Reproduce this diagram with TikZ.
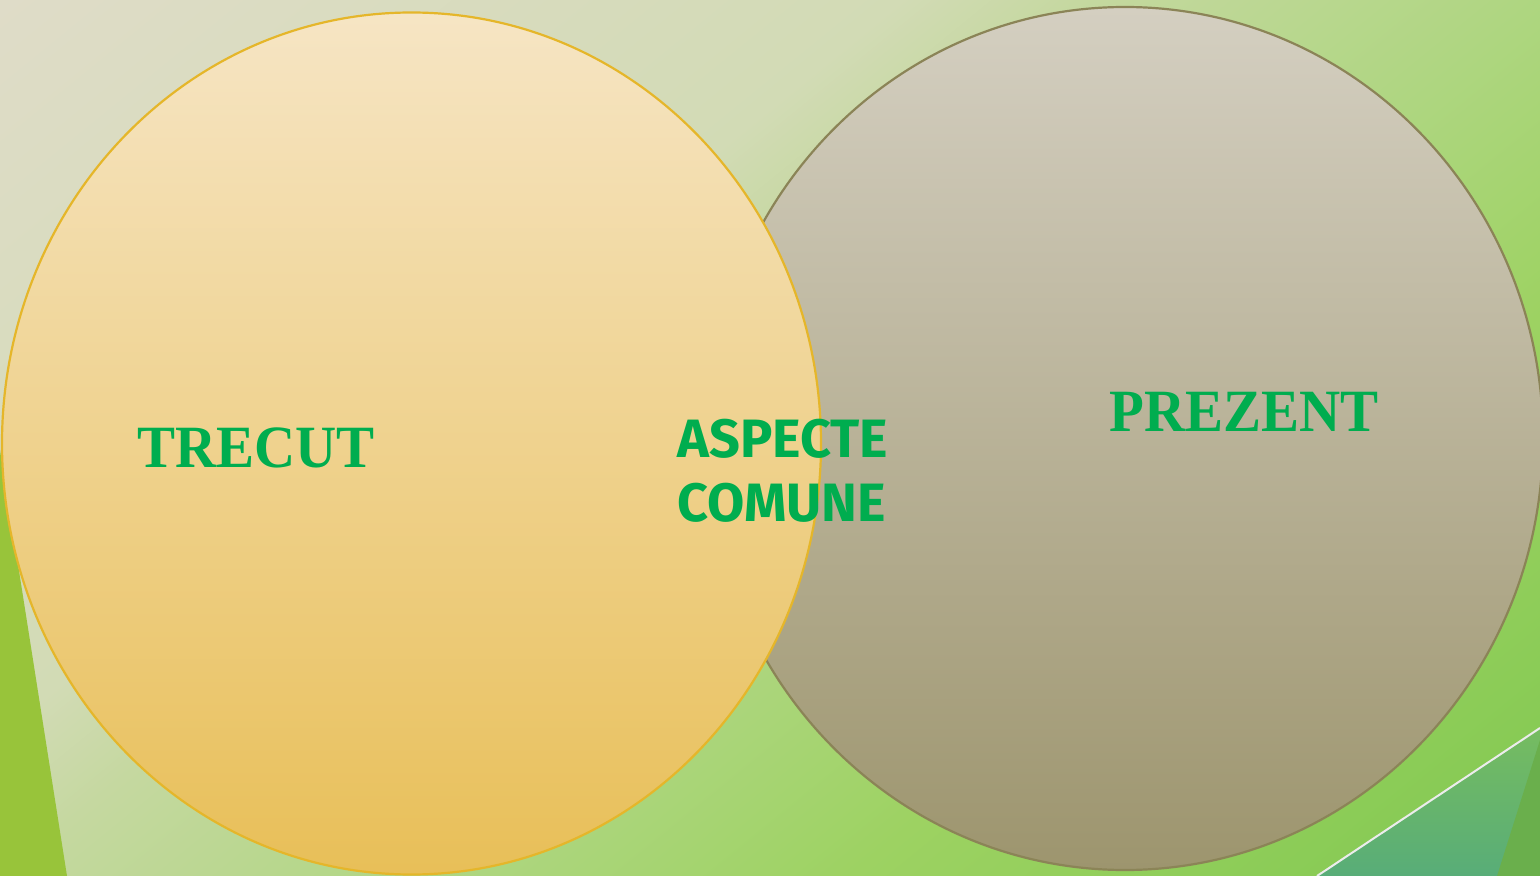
\documentclass[tikz,border=0pt]{standalone}
\usepackage{fontspec}
\usepackage{tikz}
\usetikzlibrary{positioning, shadings}
\newfontfamily\titlefont{Liberation Serif}[FakeStretch=0.95]
\newfontfamily\commonfont{Fira Sans}
\definecolor{bg0}{HTML}{DFDCC8}
\definecolor{bg1}{HTML}{D2DBB5}
\definecolor{bg2}{HTML}{C5D8A0}
\definecolor{bg3}{HTML}{AED680}
\definecolor{bg4}{HTML}{9DD262}
\definecolor{bg5}{HTML}{80C850}
\pgfdeclarehorizontalshading{bgshade}{100bp}{color(0bp)=(bg0); color(25bp)=(bg0);
  color(42.2bp)=(bg1); color(45.6bp)=(bg2); color(54.4bp)=(bg3); color(61.8bp)=(bg4);
  color(75bp)=(bg5); color(100bp)=(bg5)}
\definecolor{leafgreen}{HTML}{98C43A}
\definecolor{tealTop}{HTML}{76BC60}
\definecolor{tealBot}{HTML}{58AD78}
\definecolor{darkleaf}{HTML}{6AAF4C}
\definecolor{pastTop}{HTML}{F6E5C4}
\definecolor{pastBot}{HTML}{E8BF58}
\definecolor{pastEdge}{HTML}{E5B62A}
\definecolor{presTop}{HTML}{D4CFC1}
\definecolor{presBot}{HTML}{9D956E}
\definecolor{presEdge}{HTML}{8B8457}
\definecolor{textgreen}{HTML}{00AD4F}

\begin{document}
\begin{tikzpicture}[x=0.5pt, y=-0.5pt,
  title/.style={text=textgreen, font=\titlefont\bfseries\fontsize{30}{30}\selectfont, inner sep=0pt, anchor=base},
  common/.style={text=textgreen, font=\commonfont\bfseries\fontsize{27}{27}\selectfont, inner sep=0pt, anchor=base west}]
  \useasboundingbox (0,0) rectangle (1540,876);
  \clip (0,0) rectangle (1540,876);
  % background
  \begin{scope}[transform canvas={rotate=-50.9}]
    \shade[shading=bgshade] (0,-1300) rectangle (1652,1300);
  \end{scope}
  \fill[leafgreen] (0,450) -- (67,876) -- (0,876) -- cycle;
  \shade[top color=tealTop, bottom color=tealBot] (1317,876) -- (1540,728) -- (1540,876) -- cycle;
  \fill[darkleaf] (1497,876) -- (1540,740) -- (1540,876) -- cycle;
  \draw[line width=1pt, color=white!85!gray] (1317,876) -- (1540,728);
  % circles
  \shade[top color=presTop, bottom color=presBot, draw=presEdge, line width=1.1pt]
    (1125,438.5) ellipse [x radius=418, y radius=431.5];
  \shade[top color=pastTop, bottom color=pastBot, draw=pastEdge, line width=1.1pt]
    (411.5,443.5) ellipse [x radius=409.5, y radius=431];
  % labels
  \node[title] (trecut) at (256,467) {TRECUT};
  \node[title] (prezent) at (1244,432) {PREZENT};
  \node[common] (aspecte) at (677,458) {ASPECTE};
  \node[common] (comune) at (677,521) {COMUNE};
\end{tikzpicture}
\end{document}
